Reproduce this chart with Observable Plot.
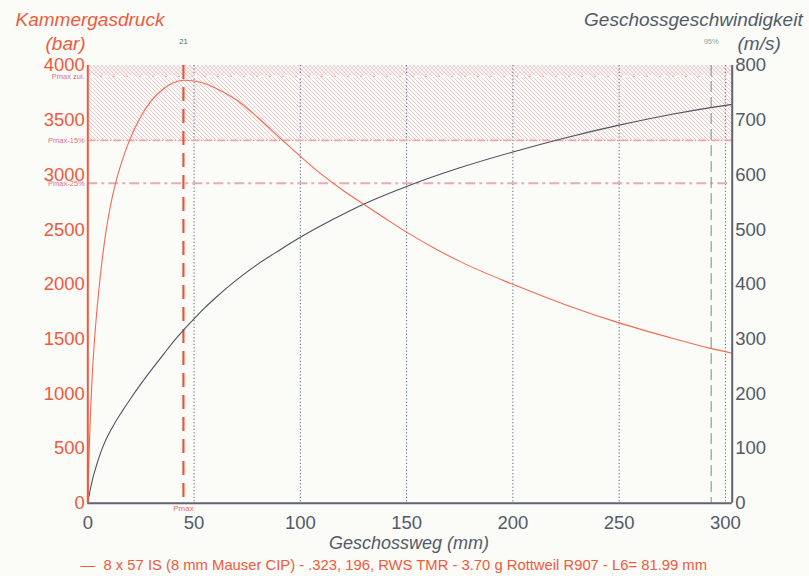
<!DOCTYPE html>
<html><head><meta charset="utf-8">
<script src="https://cdn.jsdelivr.net/npm/d3@7"></script>
<script src="https://cdn.jsdelivr.net/npm/@observablehq/plot@0.6"></script>
<style>
html,body{margin:0;padding:0;background:#fbfbf7;}
#chart{width:809px;height:576px;}
</style></head><body><div id="chart"></div>
<script>
// ---- data ----
const pressureMM  = [0, 0.5, 1, 2, 3, 4, 5.2, 6.5, 8.3, 10.5, 13, 16, 19.3, 24, 29.5, 35.8, 40, 45, 50, 55, 60, 70, 80, 90, 100, 110, 120, 130, 140, 150, 165, 175, 200, 225, 250, 275, 293, 303.2];
const pressureBar = [0, 380, 680, 1130, 1450, 1700, 1950, 2180, 2450, 2700, 2920, 3120, 3300, 3500, 3670, 3790, 3840, 3865, 3858, 3835, 3795, 3685, 3525, 3345, 3170, 3005, 2860, 2730, 2602, 2477, 2310, 2210, 2000, 1812, 1648, 1508, 1415, 1371];
const velocityMM  = [0, 0.4, 1, 2, 4, 6, 9, 12.2, 16, 20.1, 25, 30, 35.8, 40, 44.9, 50, 55, 60, 68.7, 80, 90, 100, 115, 130, 150, 175, 200, 225, 250, 275, 293, 303.2];
const velocityMS  = [0, 10, 22, 40, 68, 92, 120, 143, 167, 191, 218, 244, 273, 294, 316, 337, 357, 375, 404, 437, 462, 486, 518, 547, 579, 613, 642, 668, 691, 711, 723, 729];
const xTicks = [0, 50, 100, 150, 200, 250, 300];
const pTicks = [0, 500, 1000, 1500, 2000, 2500, 3000, 3500, 4000];
const vTicks = [0, 100, 200, 300, 400, 500, 600, 700, 800];
const limitLabels = ["Pmax zul.", "Pmax-15%", "Pmax-25%"];
const limitValues = [3900, 3315, 2925];
const pmaxPos = 45;
const pos95 = 293.3;
const barrelEnd = 303.2;
const pMaxScale = 4000, vMaxScale = 800;
const caption = "8 x 57 IS (8 mm Mauser CIP) - .323, 196, RWS TMR - 3.70 g Rottweil R907 - L6= 81.99 mm";

const k = pMaxScale / vMaxScale;
const pressure = pressureMM.map((x, i) => ({x, p: pressureBar[i]}));
const velocity = velocityMM.map((x, i) => ({x, v: velocityMS[i]}));
const limits = limitLabels.map((label, i) => ({label, value: limitValues[i]}));

const RED = "#f05a3c", GRAY = "#525a6a";

const chart = Plot.plot({
  width: 809, height: 576,
  marginLeft: 87.3, marginRight: 77.3, marginTop: 65, marginBottom: 73.3,
  x: {domain: [0, barrelEnd], axis: null},
  y: {domain: [0, pMaxScale], axis: null},
  style: {background: "#fbfbf7", fontFamily: "'Liberation Sans', Arial, sans-serif"},
  marks: [
    // hatched zone between Pmax-15% and the top
    Plot.rect([{y1: limitValues[1], y2: pMaxScale}], {x1: 0, x2: barrelEnd, y1: "y1", y2: "y2", fill: "url(#hatchA)"}),
    Plot.rect([{y1: limitValues[0], y2: pMaxScale}], {x1: 0, x2: barrelEnd, y1: "y1", y2: "y2", fill: "url(#hatchB)"}),
    // grid
    Plot.ruleX(xTicks.filter(d => d > 0), {stroke: "#56687a", strokeWidth: 1, strokeDasharray: "1.2,2.2"}),
    // limit lines
    Plot.ruleY([limitValues[0]], {stroke: "#ffffff", strokeWidth: 1.8, strokeDasharray: "8,5"}),
    Plot.ruleY([limitValues[0]], {stroke: "#f0907e", strokeWidth: 1.2, strokeDasharray: "1.5,11.5"}),
    Plot.ruleY([limitValues[1]], {stroke: "#eca6ae", strokeWidth: 1.8, strokeDasharray: "8,5"}),
    Plot.ruleY([limitValues[1]], {stroke: "#f08a6a", strokeWidth: 1.2, strokeDasharray: "1.5,11.5", strokeDashoffset: -9.5}),
    Plot.ruleY([limitValues[2]], {stroke: "#e8aab8", strokeWidth: 2, strokeDasharray: "10,4,3,4"}),
    // markers
    Plot.ruleX([pmaxPos], {stroke: RED, strokeWidth: 2.2, strokeDasharray: "14,8"}),
    Plot.ruleX([pmaxPos], {stroke: "#5f8a88", strokeWidth: 1, strokeDasharray: "14,8"}),
    Plot.ruleX([pos95], {stroke: "#5f9c80", strokeWidth: 1, strokeDasharray: "11,5"}),
    // curves
    Plot.line(velocity, {x: "x", y: d => d.v * k, stroke: "#4c5262", strokeWidth: 1.1, curve: "monotone-x"}),
    Plot.line(pressure, {x: "x", y: "p", stroke: "#f26a52", strokeWidth: 1.1, curve: "monotone-x"}),
    // axis lines
    Plot.ruleY([0], {stroke: "#5e6474", strokeWidth: 2}),
    Plot.ruleX([0], {stroke: RED, strokeWidth: 2}),
    Plot.ruleX([barrelEnd], {stroke: "#5e6474", strokeWidth: 2}),
    // axes
    Plot.axisY({ticks: pTicks, tickFormat: d => String(d), anchor: "left", tickSize: 0, tickPadding: 3, fontSize: 18.5, color: RED, label: null}),
    Plot.axisY({ticks: vTicks.map(v => v * k), tickFormat: d => String(d / k), anchor: "right", tickSize: 0, tickPadding: 3, fontSize: 18.5, color: GRAY, label: null}),
    Plot.axisX({ticks: xTicks, tickFormat: d => String(d), anchor: "bottom", tickSize: 0, tickPadding: 13, fontSize: 18.5, color: GRAY, label: null}),
    // limit labels
    Plot.text(limits, {x: 0, y: "value", text: "label", textAnchor: "end", dx: -3, dy: 0.5, fontSize: 7.5, fill: "#e07080"}),
    Plot.text([pmaxPos], {x: d => d, frameAnchor: "bottom", text: () => "Pmax", dy: 5, lineAnchor: "middle", fontSize: 8, fill: "#ef6a5a"}),
    Plot.text([pmaxPos], {x: d => d, frameAnchor: "top", text: () => "21", dy: -22, lineAnchor: "bottom", fontSize: 7.5, fill: "#3f6f70"}),
    Plot.text([pos95], {x: d => d, frameAnchor: "top", text: () => "95%", dy: -22, lineAnchor: "bottom", fontSize: 7.5, fill: "#7fae9a"}),
    // titles
    Plot.text(["Kammergasdruck"], {frameAnchor: "top-left", text: d => d, textAnchor: "start", lineAnchor: "bottom", dx: -72.3, dy: -40, fontSize: 19, fontStyle: "italic", fill: RED}),
    Plot.text(["(bar)"], {frameAnchor: "top-left", text: d => d, textAnchor: "start", lineAnchor: "bottom", dx: -42.3, dy: -16, fontSize: 19, fontStyle: "italic", fill: RED}),
    Plot.text(["Geschossgeschwindigkeit"], {frameAnchor: "top-right", text: d => d, textAnchor: "end", lineAnchor: "bottom", dx: 70.5, dy: -40, fontSize: 19, fontStyle: "italic", fill: GRAY}),
    Plot.text(["(m/s)"], {frameAnchor: "top-right", text: d => d, textAnchor: "start", lineAnchor: "bottom", dx: 5.3, dy: -16, fontSize: 19, fontStyle: "italic", fill: GRAY}),
    Plot.text(["Geschossweg (mm)"], {frameAnchor: "bottom", text: d => d, textAnchor: "middle", lineAnchor: "bottom", dx: -1, dy: 46, fontSize: 18, fontStyle: "italic", fill: GRAY}),
    Plot.text(["—  " + caption], {frameAnchor: "bottom-left", text: d => d, textAnchor: "start", lineAnchor: "bottom", dx: -7.3, dy: 67, fontSize: 14.8, fill: RED})
  ]
});

const defs = document.createElementNS("http://www.w3.org/2000/svg", "defs");
defs.innerHTML = `
<pattern id="hatchA" patternUnits="userSpaceOnUse" width="4" height="4">
  <rect width="4" height="4" fill="#fbfbf7"/>
  <path d="M-1,-1 L5,5 M-1,3 L1,5 M3,-1 L5,1" stroke="#eec0cb" stroke-width="0.9"/>
</pattern>
<pattern id="hatchB" patternUnits="userSpaceOnUse" width="4" height="4">
  <path d="M-1,5 L5,-1 M-1,1 L1,-1 M3,5 L5,3" stroke="#f3d0d8" stroke-width="0.8"/>
</pattern>`;
chart.insertBefore(defs, chart.firstChild);
document.getElementById("chart").appendChild(chart);
</script>
</body></html>
